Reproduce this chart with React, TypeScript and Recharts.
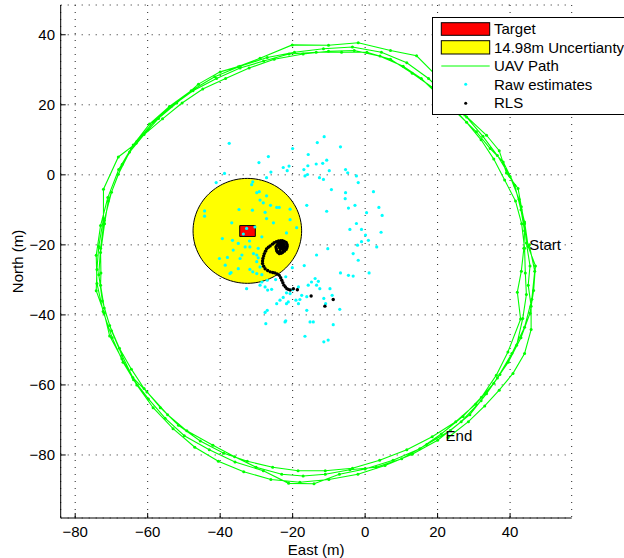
import React from 'react';
import { ScatterChart, Scatter, XAxis, YAxis, CartesianGrid } from 'recharts';

const FONT = '"Liberation Sans", Arial, Helvetica, sans-serif';

const X_TICKS = [-80, -60, -40, -20, 0, 20, 40];
const Y_TICKS = [-80, -60, -40, -20, 0, 20, 40];
const X_DOMAIN: [number, number] = [-84, 57];
const Y_DOMAIN: [number, number] = [-98, 48.5];

const UNCERTAINTY_CENTER = { x: -32.5, y: -16 };
const UNCERTAINTY_RADIUS = 14.98;

const TARGET_BOX: [number, number][] = [
  [-34.6, -17.6], [-30.3, -17.6], [-30.3, -14.5], [-34.6, -14.5], [-34.6, -17.6],
];

const LOOP_1: [number, number][] = [
  [45.3, -20.0], [46.8, -27.5], [46.0, -35.5], [44.0, -43.5], [40.5, -51.0], [36.5, -58.0], [32.0, -64.5],
  [26.5, -70.5], [20.0, -75.8], [13.0, -79.8], [5.5, -83.0], [-2.0, -85.5], [-10.0, -87.0], [-18.0, -87.8],
  [-26.0, -87.0], [-33.5, -84.8], [-40.5, -81.8], [-47.0, -77.8], [-53.0, -72.5], [-58.5, -66.5], [-63.0, -60.0],
  [-66.8, -53.5], [-69.8, -46.5], [-72.3, -39.0], [-74.0, -31.0], [-74.2, -23.0], [-73.0, -14.5], [-71.0, -6.5],
  [-68.0, 1.5], [-64.0, 8.5], [-59.5, 14.5], [-54.0, 19.5], [-48.0, 24.0], [-41.5, 28.0], [-34.5, 31.0],
  [-27.0, 33.5], [-19.5, 35.0], [-11.5, 36.0], [-3.5, 36.5], [4.5, 35.0], [11.5, 32.0], [17.5, 27.5],
  [23.0, 22.0], [28.0, 16.5], [32.5, 11.0], [36.5, 5.5], [40.0, -0.5], [42.5, -7.0], [44.0, -13.5],
];
const LOOP_2: [number, number][] = [
  [45.0, -20.5], [47.0, -26.0], [46.5, -33.0], [45.5, -39.5], [43.0, -46.5], [39.5, -53.5], [35.5, -59.5],
  [30.5, -65.5], [25.0, -70.5], [18.5, -74.8], [11.5, -78.5], [4.0, -81.5], [-3.5, -83.8], [-11.0, -84.5],
  [-18.5, -84.5], [-25.5, -83.5], [-32.5, -81.8], [-39.0, -79.5], [-45.5, -76.0], [-51.5, -71.5], [-56.5, -66.5],
  [-61.0, -61.0], [-64.5, -55.5], [-67.8, -49.5], [-70.5, -43.0], [-72.5, -36.0], [-73.5, -28.5], [-73.0, -21.0],
  [-72.0, -13.0], [-70.0, -5.0], [-67.0, 3.0], [-63.0, 9.5], [-58.5, 15.0], [-53.5, 19.5], [-47.5, 24.0],
  [-41.0, 27.5], [-34.5, 30.5], [-28.0, 32.5], [-21.0, 34.5], [-13.5, 35.0], [-6.5, 35.0], [0.5, 35.0],
  [7.0, 33.0], [13.0, 29.0], [18.5, 25.0], [23.5, 20.0], [28.0, 15.0], [32.0, 10.0], [35.5, 4.5],
  [38.5, -1.5], [41.5, -7.5], [43.2, -14.0],
];
const LOOP_3: [number, number][] = [
  [44.0, -21.0], [44.2, -28.0], [44.5, -34.2], [43.5, -41.0], [41.8, -48.7], [37.2, -57.0], [33.5, -62.5],
  [28.9, -68.5], [23.5, -73.0], [17.0, -77.0], [10.1, -81.1], [3.0, -83.5], [-4.2, -84.2], [-11.0, -85.5],
  [-17.1, -86.0], [-23.0, -85.5], [-30.1, -83.5], [-36.0, -80.5], [-42.0, -77.2], [-49.2, -73.1], [-54.5, -68.5],
  [-60.2, -62.0], [-64.1, -57.9], [-67.1, -51.5], [-70.0, -44.5], [-72.0, -38.0], [-73.0, -31.5], [-72.9, -28.0],
  [-73.0, -22.2], [-71.9, -14.0], [-70.9, -7.5], [-68.1, 0.2], [-65.0, 6.5], [-61.0, 11.5], [-55.9, 16.0],
  [-50.5, 20.5], [-44.8, 24.5], [-38.5, 27.5], [-32.0, 30.5], [-25.1, 33.0], [-17.1, 34.5], [-10.1, 35.3],
  [-3.0, 35.5], [4.1, 33.9], [10.5, 31.0], [15.5, 27.5], [20.5, 22.5], [25.5, 17.5], [30.7, 12.3],
  [34.5, 7.5], [38.1, 3.7], [41.3, -3.0], [43.0, -10.0], [44.0, -16.0],
];
const LOOP_4: [number, number][] = [
  [43.8, -21.0], [43.1, -27.5], [42.0, -33.5], [42.9, -41.2], [39.4, -50.6], [36.2, -57.2], [32.1, -63.5],
  [27.0, -69.0], [21.0, -74.0], [15.1, -78.2], [7.7, -81.5], [0.0, -84.0], [-7.1, -85.5], [-14.1, -88.2],
  [-21.1, -88.1], [-28.1, -84.5], [-35.9, -82.0], [-43.0, -78.5], [-49.9, -74.5], [-55.2, -69.5], [-59.8, -64.0],
  [-63.9, -58.5], [-67.1, -52.5], [-70.5, -46.0], [-72.0, -39.5], [-74.2, -33.1], [-74.0, -27.0], [-73.5, -20.5],
  [-72.2, -12.5], [-72.2, -4.1], [-68.1, 5.1], [-63.2, 9.0], [-57.0, 16.1], [-52.0, 20.5], [-46.0, 25.9],
  [-40.0, 29.4], [-35.0, 30.9], [-29.0, 33.3], [-20.1, 37.1], [-10.1, 37.0], [-1.9, 37.7], [7.0, 35.5],
  [14.2, 34.0], [20.0, 28.0], [24.5, 22.5], [27.5, 17.1], [33.5, 11.3], [37.0, 6.9], [39.0, 0.5],
  [42.2, -3.9], [43.1, -9.1], [44.0, -14.0],
];
const LOOP_5: [number, number][] = [
  [44.5, -19.5], [45.5, -26.0], [45.0, -31.5], [45.8, -37.5], [45.8, -44.2], [44.0, -51.0], [40.8, -56.7],
  [37.0, -61.5], [33.0, -66.0], [28.5, -70.5], [22.9, -75.0],
];

const RAW_ESTIMATES: [number, number][] = [
  [-37.5, 9.0], [-11.3, 10.9], [-13.2, 9.2], [-6.8, 8.0], [-20.0, 7.5], [-26.7, 5.2], [-29.3, 3.5], [-15.7, 5.8],
  [-38.8, 0.4], [-41.1, -2.2], [-22.6, 2.1], [-21.0, 2.5], [-21.5, 1.2], [-26.0, 0.8], [-16.9, 1.5], [-15.8, 2.6],
  [-13.5, 3.1], [-11.7, 3.3], [-10.6, 4.2], [-9.9, 1.2], [-5.4, 1.5], [-4.8, 0.6], [-2.4, -0.3], [-1.9, -2.2],
  [-9.3, -4.2], [-5.4, -5.1], [-5.5, -6.8], [2.3, -4.8], [-12.6, -0.8], [-11.5, -1.3], [-15.9, 0.1], [-16.6, -0.3],
  [-27.2, -0.8], [-31.0, -2.0], [-31.3, -2.8], [-29.2, -4.8], [-29.9, -5.1], [-29.0, -7.2], [-27.2, -6.0], [-26.1, -8.7],
  [-28.1, -8.0], [-24.4, -9.3], [-20.7, -9.8], [-23.7, -9.3], [-16.1, -8.7], [-10.6, -10.4], [-4.6, -9.5], [-2.8, -8.7],
  [0.4, -10.8], [3.8, -9.3], [-44.3, -10.3], [-44.3, -11.8], [-34.8, -9.9], [-31.1, -10.1], [-27.6, -10.7], [-27.2, -12.5],
  [-25.3, -13.7], [-20.7, -12.8], [-18.9, -15.1], [-36.8, -13.7], [-32.7, -15.3], [-33.6, -16.9], [-30.4, -14.9], [-21.7, -16.6],
  [-28.5, -17.7], [-31.9, -18.9], [-39.4, -18.2], [-36.6, -18.7], [-35.0, -19.6], [-36.4, -21.5], [-33.1, -20.6], [-31.8, -20.6],
  [-29.5, -21.0], [-38.0, -23.6], [-40.2, -23.9], [-38.6, -25.8], [-34.0, -22.9], [-34.5, -23.9], [-30.8, -22.5], [-29.9, -22.9],
  [-29.5, -23.7], [-29.9, -24.8], [-29.0, -26.3], [-31.8, -27.0], [-35.0, -26.8], [-37.0, -27.9], [-37.3, -28.2], [-31.0, -27.7],
  [-29.9, -28.2], [-28.5, -28.5], [-27.0, -30.1], [-28.5, -30.6], [-27.6, -32.0], [-24.7, -29.9], [-21.9, -29.1], [-20.1, -26.5],
  [-16.8, -25.9], [-13.4, -22.9], [-10.3, -21.1], [-4.2, -15.6], [-2.4, -13.9], [-1.0, -15.6], [0.1, -17.2], [0.9, -18.7],
  [-1.0, -19.1], [3.2, -20.6], [-2.1, -20.1], [-3.3, -22.5], [-1.9, -24.4], [-6.8, -28.0], [-4.6, -28.7], [-3.3, -28.9],
  [1.1, -28.0], [-13.8, -29.6], [-12.9, -30.4], [-12.5, -32.5], [-9.7, -32.5], [-13.4, -31.5], [-14.8, -30.6], [-15.7, -31.5],
  [-17.5, -34.4], [-18.4, -32.0], [-21.7, -33.7], [-22.6, -35.0], [-24.4, -36.8], [-23.5, -35.8], [-21.7, -36.8], [-21.2, -36.3],
  [-18.4, -36.8], [-19.1, -35.8], [-18.0, -35.6], [-16.1, -38.7], [-15.2, -42.0], [-14.3, -42.0], [-11.4, -35.3], [-10.9, -36.8],
  [-9.1, -34.4], [-8.8, -42.8], [-7.0, -38.4], [-27.0, -38.7], [-27.6, -39.3], [-27.4, -42.5], [-21.9, -41.7], [-22.1, -42.0],
  [-16.6, -46.1], [-11.4, -47.7], [-10.2, -47.2], [-29.0, -31.5], [-32.7, -32.5], [-26.9, -32.9], [-25.8, -32.7], [-20.7, -33.9],
  [-20.0, -32.8], [-16.1, -34.8], [4.7, -11.6], [4.4, -16.4],
];

const RLS: [number, number][] = [
  [-11.1, -37.5], [-8.8, -35.6], [-14.9, -34.6], [-18.7, -32.8], [-19.8, -32.5],
  [-20.7, -32.9], [-21.2, -32.7], [-21.6, -32.5], [-22.0, -32.0], [-22.4, -31.5], [-22.7, -30.8], [-23.0, -30.1],
  [-23.3, -29.4], [-23.7, -28.7], [-24.3, -28.3], [-24.9, -28.0], [-25.5, -27.9], [-26.2, -27.7], [-26.9, -27.3],
  [-27.6, -26.8], [-28.0, -26.1], [-28.3, -25.3], [-28.3, -24.6], [-28.2, -23.9], [-28.0, -23.2], [-27.8, -22.5],
  [-27.5, -21.8], [-27.2, -21.2], [-26.7, -20.7], [-26.2, -20.3], [-25.6, -19.8], [-25.1, -19.4], [-24.5, -19.1],
  [-23.9, -18.9], [-23.3, -18.8], [-22.8, -18.8], [-22.3, -19.0], [-21.8, -19.3], [-21.6, -19.8], [-21.5, -20.3],
  [-21.6, -20.8], [-21.8, -21.3], [-22.3, -21.8], [-22.8, -22.2], [-23.2, -22.4], [-23.7, -22.5], [-24.1, -22.1],
  [-24.4, -21.7], [-24.5, -21.1], [-24.6, -20.6], [-24.3, -20.1], [-24.0, -19.6], [-23.5, -19.5], [-23.1, -19.4],
  [-22.7, -19.6], [-22.4, -19.9], [-22.5, -20.4], [-22.6, -20.8], [-23.0, -21.0], [-23.3, -21.1], [-23.6, -20.8],
  [-23.7, -20.4], [-23.4, -20.1], [-23.0, -20.1], [-23.0, -20.5], [-22.1, -20.5], [-22.0, -21.0], [-22.6, -21.5],
  [-23.5, -21.7],
];

const ANNOTATIONS = [
  { x: 45.3, y: -20.0, text: 'Start' },
  { x: 22.2, y: -74.4, text: 'End' },
];

const LEGEND_LABELS = ['Target', '14.98m Uncertianty', 'UAV Path', 'Raw estimates', 'RLS'];

const toPts = (arr: [number, number][]) => arr.map(([x, y]) => ({ x, y }));

const pathData = toPts([...LOOP_1, ...LOOP_2, ...LOOP_3, ...LOOP_4, ...LOOP_5]);
const rawData = toPts(RAW_ESTIMATES);
const rlsData = toPts(RLS);
const targetData = toPts(TARGET_BOX);

const CIRCLE_STEPS = 120;
const circleData = Array.from({ length: CIRCLE_STEPS + 1 }, (_, i) => {
  const t = (i / CIRCLE_STEPS) * Math.PI * 2;
  return {
    x: UNCERTAINTY_CENTER.x + UNCERTAINTY_RADIUS * Math.cos(t),
    y: UNCERTAINTY_CENTER.y + UNCERTAINTY_RADIUS * Math.sin(t),
  };
});

const fmt = (v: number) => String(v).replace('-', '\u2212');

const Empty = () => <g />;

export default function App() {
  return (
    <div
      style={{
        position: 'absolute',
        left: 0,
        top: 0,
        width: 624,
        height: 558,
        overflow: 'hidden',
        background: '#fff',
        fontFamily: FONT,
      }}
    >
      <ScatterChart width={624} height={558} margin={{ top: 5, right: 52.3, bottom: 0, left: 0 }}>
        <CartesianGrid stroke="#222" strokeDasharray="1 6" strokeWidth={1} />
        <XAxis
          type="number"
          dataKey="x"
          domain={X_DOMAIN}
          ticks={X_TICKS}
          allowDataOverflow
          interval={0}
          height={40}
          tickSize={-5}
          tickMargin={13.65}
          tickFormatter={fmt}
          axisLine={{ stroke: '#000' }}
          tickLine={{ stroke: '#000' }}
          tick={{ fill: '#000', fontSize: 15, fontFamily: FONT }}
          label={{ value: 'East (m)', position: 'insideBottom', offset: 3.5, fill: '#000', fontSize: 15, fontFamily: FONT }}
        />
        <YAxis
          type="number"
          dataKey="y"
          domain={Y_DOMAIN}
          ticks={Y_TICKS}
          allowDataOverflow
          interval={0}
          width={60.7}
          tickSize={-5}
          tickMargin={10.7}
          tickFormatter={fmt}
          axisLine={{ stroke: '#000' }}
          tickLine={{ stroke: '#000' }}
          tick={{ fill: '#000', fontSize: 15, fontFamily: FONT }}
          label={{
            value: 'North (m)',
            angle: -90,
            position: 'insideLeft',
            offset: 18,
            fill: '#000',
            fontSize: 15,
            fontFamily: FONT,
            style: { textAnchor: 'middle' },
          }}
        />
        <Scatter
          data={circleData}
          isAnimationActive={false}
          line={{ stroke: '#000', strokeWidth: 1, fill: '#ffff00' }}
          lineType="joint"
          shape={Empty}
          fill="#000"
        />
        <Scatter
          data={targetData}
          isAnimationActive={false}
          line={{ stroke: '#000', strokeWidth: 1, fill: '#ff0000' }}
          lineType="joint"
          shape={Empty}
          fill="#000"
        />
        <Scatter
          data={pathData}
          isAnimationActive={false}
          line={{ stroke: '#00ff00', strokeWidth: 1.1 }}
          lineType="joint"
          fill="#00ff00"
          shape={(p: any) => <circle cx={p.cx} cy={p.cy} r={1.5} fill="#00ff00" />}
        />
        <Scatter
          data={rawData}
          isAnimationActive={false}
          fill="#00ffff"
          shape={(p: any) => <circle cx={p.cx} cy={p.cy} r={1.6} fill="#00ffff" />}
        />
        <Scatter
          data={rlsData}
          isAnimationActive={false}
          fill="#000"
          shape={(p: any) => <circle cx={p.cx} cy={p.cy} r={1.7} fill="#000" />}
        />
        <Scatter
          data={ANNOTATIONS}
          isAnimationActive={false}
          fill="#000"
          shape={(p: any) => (
            <text x={p.cx} y={p.cy} dy="0.35em" fontSize={15} fontFamily={FONT} fill="#000">
              {p.payload.text}
            </text>
          )}
        />
      </ScatterChart>
      <svg
        width={200}
        height={99}
        style={{ position: 'absolute', left: 432, top: 17 }}
      >
        <rect x={0.5} y={0.5} width={260} height={97} fill="#fff" stroke="#000" strokeWidth={1} />
        <rect x={9.3} y={5.7} width={48.4} height={12.6} fill="#ff0000" stroke="#000" strokeWidth={1} />
        <rect x={9.3} y={23.7} width={48.4} height={13.3} fill="#ffff00" stroke="#000" strokeWidth={1} />
        <line x1={9.3} x2={57.7} y1={49} y2={49} stroke="#00ff00" strokeWidth={1} />
        <circle cx={33.7} cy={67.3} r={1.5} fill="#00ffff" />
        <circle cx={33.7} cy={86.3} r={1.5} fill="#000" />
        {LEGEND_LABELS.map((label, i) => (
          <text key={label} x={62} y={17 + i * 18.5} fontSize={15} fontFamily={FONT} fill="#000">
            {label}
          </text>
        ))}
      </svg>
    </div>
  );
}
